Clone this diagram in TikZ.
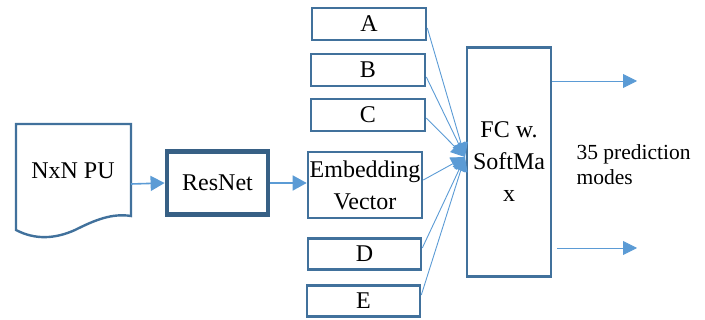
\documentclass[tikz,border=0pt]{standalone}
\usepackage{fontspec}
\setmainfont{Liberation Serif}
\usetikzlibrary{arrows.meta,calc}
\definecolor{boxblue}{HTML}{41719C}
\definecolor{arrblue}{HTML}{5B9BD5}
\begin{document}
\begin{tikzpicture}[x=1pt,y=-1pt,
  box/.style={draw=boxblue,line width=2.6pt,fill=white,inner sep=0pt,align=center,font=\fontsize{24}{32}\selectfont},
  conn/.style={draw=arrblue,line width=1.6pt,-{Triangle[length=14pt,width=15pt]}},
  thin/.style={draw=arrblue,line width=0.9pt,-{Triangle[length=14pt,width=14pt]}}]
\useasboundingbox (0,0) rectangle (705,320);
% document shape
\draw[draw=boxblue,line width=2.4pt,fill=white] (16,124) -- (131,124) -- (131,216)
  .. controls (112,213) and (95,220) .. (75,230)
  .. controls (55,239) and (35,240) .. (16,230) -- cycle;
\node[font=\fontsize{24}{32}\selectfont] (pu) at (73,171) {NxN PU};
\coordinate (puout) at (131,184);
\node[box,draw=boxblue!85!black,line width=4.8pt,minimum width=101pt,minimum height=63pt] (res) at (217.5,183) {ResNet};
\node[box,minimum width=114pt,minimum height=32pt] (A) at (369,24) {A};
\node[box,minimum width=114pt,minimum height=32pt] (B) at (368,70) {B};
\node[box,minimum width=114pt,minimum height=32pt] (C) at (368,115) {C};
\node[box,minimum width=114pt,minimum height=66pt] (emb) at (365,185) {Embedding\\Vector};
\node[box,minimum width=113pt,minimum height=31pt] (D) at (364.5,254) {D};
\node[box,minimum width=113pt,minimum height=31pt] (E) at (363.5,301) {E};
\node[box,minimum width=84pt,minimum height=229pt] (fc) at (509,162) {FC w.\\SoftMa\\x};
\coordinate (conv) at (465,157);
\node[anchor=west,align=left,font=\fontsize{21.5}{25}\selectfont] (lbl) at (573,165) {35 prediction\\modes};
\coordinate (o1) at (637,81);
\coordinate (o2) at (637,248);
% connectors
\draw[conn] (puout) -- (res.west);
\draw[conn] (res.east) -- (res.east -| emb.west);
\draw[thin] ([yshift=-4pt]A.east) -- (conv);
\draw[thin] ([yshift=-7pt]B.east) -- (conv);
\draw[thin] ([yshift=-3pt]C.east) -- (conv);
\draw[thin] ([yshift=5pt]emb.east) -- (conv);
\draw[thin] ([yshift=6pt]D.east) -- (conv);
\draw[thin] ([yshift=6pt]E.east) -- (conv);
\draw[thin] (fc.east |- o1) -- (o1);
\draw[thin] ([xshift=5pt]fc.east |- o2) -- (o2);
\end{tikzpicture}
\end{document}
